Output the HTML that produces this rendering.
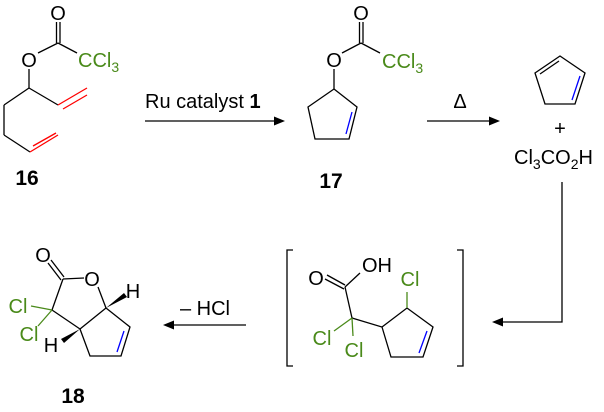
<!DOCTYPE html>
<html><head><meta charset="utf-8"><style>
html,body{margin:0;padding:0;background:#fff;}
svg{display:block;}
text{font-family:"Liberation Sans",sans-serif;font-size:20px;}
.g{fill:#4a8a1a;}
.b{font-weight:bold;font-size:21px;}
</style></head><body>
<svg width="604" height="412" viewBox="0 0 604 412" xmlns="http://www.w3.org/2000/svg">
<g stroke="#000" stroke-width="1.3" fill="none">
<line x1="56.5" y1="22" x2="56.5" y2="43"/><line x1="60" y1="22" x2="60" y2="43"/>
<line x1="58" y1="43" x2="77" y2="53"/>
<line x1="58" y1="43" x2="38" y2="53"/>
<line x1="29" y1="69" x2="29" y2="88"/>
<line x1="29" y1="88" x2="58" y2="105"/>
<line x1="29" y1="88" x2="4" y2="105"/>
<line x1="4" y1="105" x2="4" y2="135"/>
<line x1="4" y1="135" x2="30" y2="152"/>
<line x1="145" y1="121" x2="276" y2="121"/>
<line x1="359.5" y1="22" x2="359.5" y2="43"/><line x1="363" y1="22" x2="363" y2="43"/>
<line x1="361" y1="43" x2="380" y2="53"/>
<line x1="361" y1="43" x2="342" y2="53"/>
<line x1="334" y1="69" x2="334" y2="89"/>
<polyline points="334,89 357,107 349,139 315,139 308,107 334,89"/>
<line x1="427" y1="121" x2="491" y2="121"/>
<polygon points="560,56 585,73 575,104 545,104 535,73"/>
<line x1="540" y1="74" x2="559" y2="61"/>
<polyline points="562,182 562,322 500,322"/>
<polyline points="293,250 287,250 287,366 293,366"/>
<polyline points="457,250 463,250 463,366 457,366"/>
<line x1="327" y1="275" x2="345" y2="285"/><line x1="325" y1="279" x2="344" y2="289"/>
<line x1="345" y1="287" x2="360" y2="273"/>
<line x1="345" y1="287" x2="352" y2="318"/>
<line x1="352" y1="318" x2="382" y2="327"/>
<polyline points="382,327 407,308 433,327 423,357 391,357 382,327"/>
<line x1="246" y1="325" x2="172" y2="325"/>
<line x1="48" y1="263" x2="61" y2="280"/><line x1="51" y1="260" x2="64" y2="277"/>
<line x1="63" y1="279" x2="84" y2="278"/>
<line x1="63" y1="279" x2="52" y2="310"/>
<line x1="98" y1="287" x2="106" y2="308"/>
<line x1="52" y1="310" x2="80" y2="329"/>
<line x1="80" y1="329" x2="106" y2="308"/>
<polyline points="106,308 130,327 121,356 90,356 80,329"/>
</g>
<g stroke="#4a8a1a" stroke-width="1.3">
<line x1="31" y1="306" x2="52" y2="310"/>
<line x1="38" y1="326" x2="52" y2="310"/>
<line x1="352" y1="318" x2="334" y2="331"/>
<line x1="352" y1="318" x2="353" y2="336"/>
<line x1="407" y1="308" x2="407" y2="292"/>
</g>
<g stroke="#ff0000" stroke-width="1.3">
<line x1="58" y1="105" x2="87" y2="88"/><line x1="63" y1="109" x2="87" y2="95"/>
<line x1="30" y1="152" x2="58" y2="135"/><line x1="33" y1="146" x2="56" y2="133"/>
</g>
<g stroke="#0000ff" stroke-width="1.3">
<line x1="352" y1="112" x2="346" y2="134"/>
<line x1="580" y1="76" x2="572" y2="100"/>
<line x1="427" y1="331" x2="419" y2="353"/>
<line x1="124" y1="331" x2="117" y2="352"/>
</g>
<g fill="#000">
<polygon points="285,121 274,116.5 274,125.5"/>
<polygon points="500,121 489,116.5 489,125.5"/>
<polygon points="492,322 503,317.5 503,326.5"/>
<polygon points="163,325 174,320.5 174,329.5"/>
<polygon points="106,308 124,293 127,297"/>
<polygon points="80,329 61,339 64,343"/>
</g>
<g text-anchor="middle">
<text x="58" y="20">O</text>
<text x="29" y="67">O</text>
<text x="361" y="20">O</text>
<text x="334" y="67">O</text>
<text x="560" y="135">+</text>
<text x="460" y="108">Δ</text>
<text x="316" y="285">O</text>
<text x="43" y="262">O</text>
<text x="92" y="286">O</text>
<text x="133" y="298">H</text>
<text x="51" y="352">H</text>
<text x="27" y="185" class="b">16</text>
<text x="331" y="188" class="b">17</text>
<text x="73" y="403" class="b">18</text>
<text x="377" y="272">OH</text>
<text x="205" y="315">– HCl</text>
</g>
<text x="78" y="67" class="g">CCl<tspan font-size="14" dy="5">3</tspan></text>
<text x="382" y="68" class="g">CCl<tspan font-size="14" dy="5">3</tspan></text>
<text x="514" y="164">Cl<tspan font-size="14" dy="5">3</tspan><tspan dy="-5">CO</tspan><tspan font-size="14" dy="5">2</tspan><tspan dy="-5">H</tspan></text>
<text x="145" y="108">Ru catalyst <tspan font-weight="bold">1</tspan></text>
<g class="g" text-anchor="middle">
<text x="322" y="345">Cl</text>
<text x="354" y="357">Cl</text>
<text x="410" y="286">Cl</text>
<text x="18" y="313">Cl</text>
<text x="29" y="341">Cl</text>
</g>
</svg>
</body></html>
